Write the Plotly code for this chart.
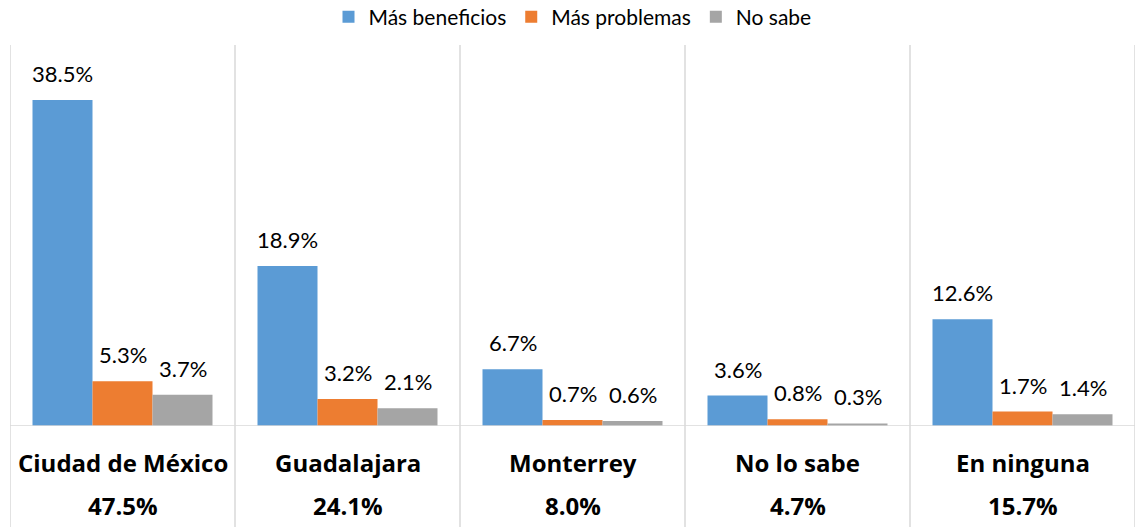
import plotly.graph_objects as go

categories = ["Ciudad de México", "Guadalajara", "Monterrey", "No lo sabe", "En ninguna"]
totals = ["47.5%", "24.1%", "8.0%", "4.7%", "15.7%"]
series_names = ["Más beneficios", "Más problemas", "No sabe"]
mas_beneficios = [38.5, 18.9, 6.7, 3.6, 12.6]
mas_problemas = [5.3, 3.2, 0.7, 0.8, 1.7]
no_sabe = [3.7, 2.1, 0.6, 0.3, 1.4]
colors = ["#5B9BD5", "#ED7D31", "#A5A5A5"]

FONT = "Lato, 'Open Sans', sans-serif"
BFONT = "'Open Sans', Lato, sans-serif"
series = [mas_beneficios, mas_problemas, no_sabe]

fig = go.Figure()
for name, vals, col in zip(series_names, series, colors):
    fig.add_trace(go.Bar(x=categories, y=vals, name=name, marker=dict(color=col, line=dict(width=0)),
                         hoverinfo="x+y"))

annotations = []
offsets = [-60, 0, 60]
for vals, off in zip(series, offsets):
    for c, v in zip(categories, vals):
        annotations.append(dict(x=c, y=v, xref="x", yref="y", text=f"{v:.1f}%", showarrow=False,
                                xshift=off, yanchor="bottom", yshift=11,
                                font=dict(family=FONT, size=22, color="#000000")))
for c, t in zip(categories, totals):
    annotations.append(dict(x=c, y=0, xref="x", yref="paper", text=f"<b>{c}</b>", showarrow=False,
                            yanchor="middle", yshift=-36, font=dict(family=BFONT, size=24, color="#000000")))
    annotations.append(dict(x=c, y=0, xref="x", yref="paper", text=f"<b>{t}</b>", showarrow=False,
                            yanchor="middle", yshift=-79, font=dict(family=BFONT, size=24, color="#000000")))

shapes = []
for i in range(len(categories) + 1):
    shapes.append(dict(type="line", xref="x", yref="paper", x0=i - 0.5, x1=i - 0.5, y0=-0.27, y1=1,
                       line=dict(color="#D9D9D9", width=1.5)))
shapes.append(dict(type="line", xref="paper", yref="y", x0=0, x1=1, y0=0, y1=0,
                   line=dict(color="#D9D9D9", width=1.5)))

fig.update_layout(
    width=1135, height=527,
    barmode="group", bargap=0.2, bargroupgap=0,
    plot_bgcolor="white", paper_bgcolor="white",
    margin=dict(l=10, r=0, t=45, b=101, autoexpand=False),
    font=dict(family=FONT, color="#000000"),
    legend=dict(orientation="h", x=0.5, xanchor="center", y=1.0735, yanchor="middle", yref="paper",
                font=dict(family=FONT, size=21, color="#000000"), itemsizing="constant",
                traceorder="normal", itemwidth=30),
    xaxis=dict(showticklabels=False, showgrid=False, zeroline=False, showline=False,
               range=[-0.5, len(categories) - 0.5]),
    yaxis=dict(range=[0, 45], showticklabels=False, showgrid=False, zeroline=False, showline=False),
    annotations=annotations,
    shapes=shapes,
    showlegend=True,
)
fig.write_html("out.html", config={"displayModeBar": False},
               post_script="document.body.style.margin='0px';")
